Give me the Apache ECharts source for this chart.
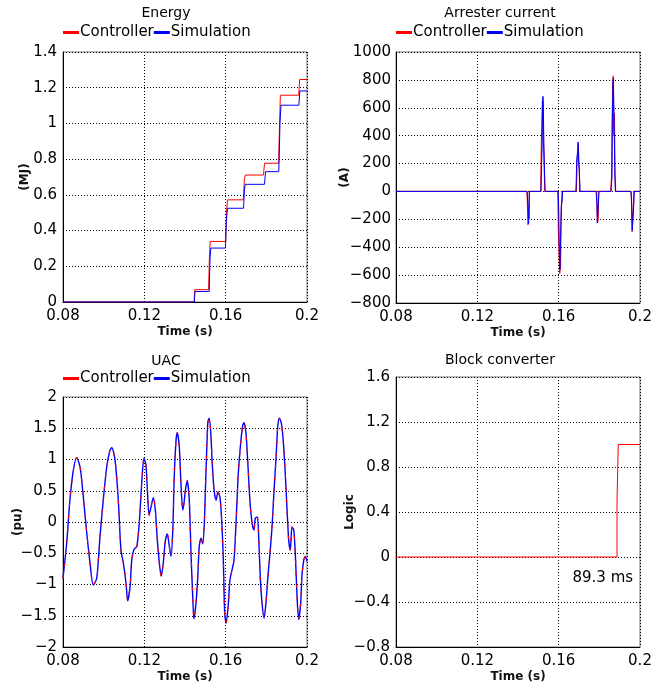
<!DOCTYPE html>
<html><head><meta charset="utf-8">
<script src="https://cdn.jsdelivr.net/npm/echarts@6/dist/echarts.min.js"></script>
<style>html,body{margin:0;padding:0;background:#fff}#c{width:667px;height:689px}</style>
</head><body><div id="c"></div>
<script>
// ---------- data ----------
const panelTitles = ['Energy', 'Arrester current', 'UAC', 'Block converter'];
const seriesNames = ['Controller', 'Simulation'];
const yNames = ['(MJ)', '(A)', '(pu)', 'Logic'];
const timeTicks = [0.08, 0.12, 0.16, 0.2];

const energyController = [[0.08,0],[0.1445,0],[0.1448,0.069],[0.1516,0.069],[0.1520,0.25],[0.1524,0.339],[0.1600,0.339],[0.1604,0.50],[0.1609,0.572],[0.1687,0.572],[0.1692,0.69],[0.1697,0.711],[0.1786,0.711],[0.1791,0.777],[0.1860,0.777],[0.1864,0.95],[0.1869,1.158],[0.1959,1.158],[0.1964,1.246],[0.2,1.246]];
const energySimulation = [[0.08,0],[0.1446,0],[0.1449,0.059],[0.1519,0.059],[0.1523,0.24],[0.1527,0.302],[0.1599,0.302],[0.1603,0.45],[0.1609,0.525],[0.1688,0.525],[0.1692,0.62],[0.1696,0.659],[0.1791,0.659],[0.1796,0.730],[0.1861,0.730],[0.1863,0.80],[0.1867,1.00],[0.1872,1.102],[0.1960,1.102],[0.1965,1.182],[0.2,1.182]];

const arresterController = [[0.08,0],[0.1444,0],[0.1446,-60],[0.1449,-240],[0.1453,-150],[0.1455,-200],[0.1456,0],
 [0.1512,0],[0.1515,350],[0.1518,360],[0.1520,640],[0.1522,660],[0.1524,600],[0.1526,330],[0.1531,330],[0.1532,0],
 [0.1596,0],[0.1599,-300],[0.1602,-420],[0.1605,-590],[0.1609,-530],[0.1612,-200],[0.1615,-60],[0.1617,0],
 [0.1686,0],[0.1688,50],[0.1690,220],[0.1694,260],[0.1696,340],[0.1698,270],[0.1701,160],[0.1704,0],
 [0.1785,0],[0.1787,-20],[0.1789,-120],[0.1791,-225],[0.1794,-200],[0.1797,0],
 [0.1856,0],[0.1860,90],[0.1863,480],[0.1866,760],[0.1868,830],[0.1871,400],[0.1874,560],[0.1877,120],[0.1880,0],
 [0.1955,0],[0.1958,-40],[0.1961,-290],[0.1964,-200],[0.1967,-140],[0.1970,0],[0.2,0]];
const arresterSimulation = [[0.08,0],[0.1445,0],[0.1450,-120],[0.1452,-231],[0.1455,-231],[0.1456,0],
 [0.1513,0],[0.1516,200],[0.1519,340],[0.1521,660],[0.1523,682],[0.1525,570],[0.1527,343],[0.1532,343],[0.1533,0],
 [0.1597,0],[0.1600,-100],[0.1603,-400],[0.1606,-560],[0.1610,-570],[0.1613,-100],[0.1618,-60],[0.1619,0],
 [0.1685,0],[0.1689,230],[0.1694,300],[0.1696,355],[0.1698,200],[0.1701,170],[0.1705,0],
 [0.1784,0],[0.1788,-90],[0.1790,-227],[0.1795,-227],[0.1798,0],
 [0.1857,0],[0.1862,100],[0.1864,500],[0.1867,780],[0.1869,815],[0.1872,560],[0.1876,150],[0.1879,0],
 [0.1956,0],[0.1960,-140],[0.1962,-279],[0.1966,-279],[0.1969,-100],[0.1972,0],[0.2,0]];

const uacSimulation = [[0.0800,-0.90],[0.0818,-0.34],[0.0834,0.35],[0.0851,0.83],[0.0867,1.03],[0.0884,0.88],[0.0900,0.40],[0.0917,-0.18],[0.0933,-0.66],[0.0949,-1.01],[0.0966,-0.90],[0.0982,-0.23],[0.0998,0.35],[0.1015,0.88],[0.1031,1.15],[0.1040,1.19],[0.1056,0.99],[0.1072,0.35],[0.1085,-0.45],[0.1097,-0.66],[0.1110,-0.98],[0.1118,-1.26],[0.1130,-1.03],[0.1138,-0.61],[0.1149,-0.44],[0.1163,-0.39],[0.1175,-0.02],[0.1187,0.62],[0.1198,1.02],[0.1208,0.91],[0.1215,0.51],[0.1223,0.11],[0.1233,0.24],[0.1244,0.39],[0.1254,0.19],[0.1264,-0.29],[0.1274,-0.66],[0.1283,-0.87],[0.1293,-0.66],[0.1303,-0.31],[0.1313,-0.19],[0.1323,-0.39],[0.1331,-0.55],[0.1340,-0.13],[0.1347,0.72],[0.1356,1.31],[0.1362,1.43],[0.1372,1.20],[0.1380,0.62],[0.1389,0.19],[0.1395,0.30],[0.1402,0.51],[0.1411,0.66],[0.1421,0.35],[0.1430,-0.55],[0.1438,-1.19],[0.1444,-1.55],[0.1454,-1.30],[0.1463,-0.87],[0.1470,-0.39],[0.1479,-0.26],[0.1487,-0.35],[0.1495,-0.02],[0.1503,0.78],[0.1512,1.58],[0.1518,1.66],[0.1526,1.47],[0.1534,0.94],[0.1543,0.51],[0.1553,0.35],[0.1562,0.48],[0.1572,0.40],[0.1581,-0.02],[0.1588,-0.55],[0.1595,-1.45],[0.1602,-1.62],[0.1612,-1.35],[0.1621,-0.93],[0.1631,-0.77],[0.1641,-0.61],[0.1651,-0.02],[0.1661,0.72],[0.1672,1.20],[0.1684,1.55],[0.1690,1.59],[0.1700,1.42],[0.1710,0.88],[0.1720,0.30],[0.1730,-0.02],[0.1739,-0.13],[0.1746,0.06],[0.1756,0.08],[0.1763,-0.29],[0.1770,-0.87],[0.1779,-1.30],[0.1789,-1.54],[0.1798,-1.30],[0.1808,-0.87],[0.1818,-0.50],[0.1828,-0.08],[0.1838,0.51],[0.1848,1.04],[0.1856,1.52],[0.1864,1.66],[0.1874,1.58],[0.1883,1.31],[0.1893,0.78],[0.1902,0.19],[0.1910,-0.29],[0.1918,-0.45],[0.1926,-0.08],[0.1935,-0.13],[0.1943,-0.55],[0.1951,-1.19],[0.1959,-1.56],[0.1969,-1.30],[0.1975,-0.87],[0.1984,-0.61],[0.1992,-0.55],[0.2000,-0.63]];
const uacController = uacSimulation;

const blockController = [[0.08,0],[0.1887,0],[0.1887,0.5],[0.1893,0.5],[0.1893,1],[0.2,1]];
const blockLabel = '89.3 ms';
const blockLabelAt = [0.1817, -0.185];

const yRanges = [[0,1.4,0.2],[-800,1000,200],[-2,2,0.5],[-0.8,1.6,0.4]];

// ---------- chart ----------
const FONT = 'DejaVu Sans';
const RED = '#ff0000', BLUE = '#0000ff';
const grids = [
  {left:63, top:52, width:244, height:250},
  {left:396, top:52, width:244, height:251},
  {left:63, top:397, width:244, height:250},
  {left:396, top:377, width:244, height:270}
];
const nameGaps = [32, 45, 39, 40];
const labelMargins = [6, 5, 6, 6];
const fmt = v => String(parseFloat(Number(v).toFixed(6))).replace('-', '\u2212');

const chart = echarts.init(document.getElementById('c'), null, {renderer:'canvas'});
const option = {
  animation:false,
  backgroundColor:'#fff',
  textStyle:{fontFamily:FONT},
  title: panelTitles.map((t,i)=>({
    text:t, left: (i%2===0)?166:500, top: [6,6,354,353][i], textAlign:'center', padding:0,
    textStyle:{fontFamily:FONT, fontSize:14, fontWeight:'normal', color:'#000'}
  })),
  legend: [0,1,2].map(i=>({
    data:seriesNames, left: grids[i].left, top: i<2?25:371, itemGap:0,
    icon:'rect', itemWidth:16, itemHeight:3, padding:0,
    textStyle:{fontFamily:FONT, fontSize:15, color:'#000', padding:[0,0,0,-4]}
  })),
  grid: grids.map(g=>Object.assign({show:true, borderColor:'#777', borderWidth:1, containLabel:false}, g)),
  xAxis: grids.map((g,i)=>({
    type:'value', gridIndex:i, min:0.08, max:0.2, interval:0.04,
    name:'Time (s)', nameLocation:'middle', nameGap:24, nameMoveOverlap:false,
    nameTextStyle:{fontFamily:FONT, fontSize:12, fontWeight:'bold', color:'#111'},
    axisLine:{onZero:false, lineStyle:{color:'#000', width:1}}, axisTick:{show:false},
    axisLabel:{fontFamily:FONT, fontSize:15, color:'#000', margin:7, formatter:fmt},
    splitLine:{show:true, lineStyle:{type:[1,2], color:'#000', width:1}}
  })),
  yAxis: grids.map((g,i)=>({
    type:'value', gridIndex:i, min:yRanges[i][0], max:yRanges[i][1], interval:yRanges[i][2],
    name:yNames[i], nameLocation:'middle', nameGap:nameGaps[i], nameMoveOverlap:false,
    nameTextStyle:{fontFamily:FONT, fontSize:12, fontWeight:'bold', color:'#111'},
    axisLine:{show:true, onZero:false, lineStyle:{color:'#000', width:1}}, axisTick:{show:false},
    axisLabel:{fontFamily:FONT, fontSize:15, color:'#000', margin:labelMargins[i], formatter:fmt},
    splitLine:{show:true, lineStyle:{type:[1,2], color:'#000', width:1}}
  })),
  series: [
    {name:'Controller', type:'line', xAxisIndex:0, yAxisIndex:0, data:energyController, symbol:'none', color:RED, lineStyle:{color:RED, width:1}},
    {name:'Simulation', type:'line', xAxisIndex:0, yAxisIndex:0, data:energySimulation, symbol:'none', color:BLUE, lineStyle:{color:BLUE, width:1}},
    {name:'Controller', type:'line', xAxisIndex:1, yAxisIndex:1, data:arresterController, symbol:'none', color:RED, lineStyle:{color:RED, width:1.2}},
    {name:'Simulation', type:'line', xAxisIndex:1, yAxisIndex:1, data:arresterSimulation, symbol:'none', color:BLUE, lineStyle:{color:BLUE, width:1}},
    {name:'Simulation', type:'line', xAxisIndex:2, yAxisIndex:2, data:uacSimulation, symbol:'none', smooth:0.25, color:BLUE, lineStyle:{color:BLUE, width:1.4}},
    {name:'Controller', type:'line', xAxisIndex:2, yAxisIndex:2, data:uacController, symbol:'none', smooth:0.25, color:RED, lineStyle:{color:RED, width:1.2, type:[3,9]}, z:3},
    {name:'Block', type:'line', xAxisIndex:3, yAxisIndex:3, data:blockController, symbol:'none', color:RED, lineStyle:{color:RED, width:1},
      markPoint:{symbol:'circle', symbolSize:0, silent:true,
        label:{show:true, position:'inside', formatter:blockLabel, fontFamily:FONT, fontSize:15, color:'#000'},
        data:[{coord:blockLabelAt}]}}
  ]
};
chart.setOption(option);
</script></body></html>
